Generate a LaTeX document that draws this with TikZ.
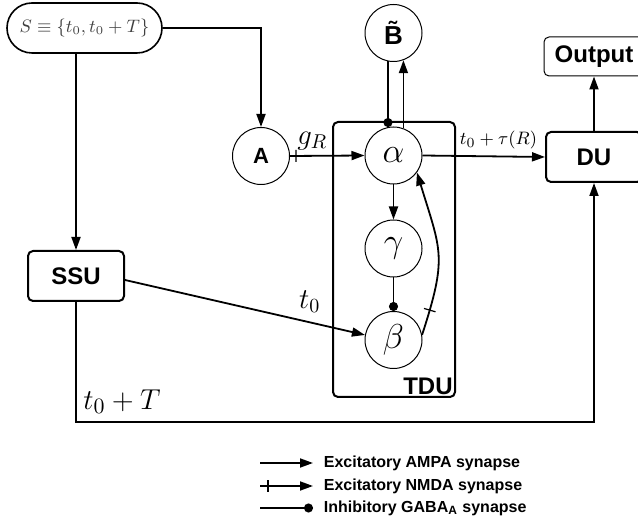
\documentclass[tikz,border=0pt]{standalone}
\usepackage{fontspec}
\setsansfont{Liberation Sans}
\usetikzlibrary{shapes.misc, arrows.meta, decorations.markings, calc}

\begin{document}
\begin{tikzpicture}[
    x=0.5pt, y=-0.5pt,
    unit_box/.style={
        draw=black, line width=1pt, rounded corners=2.5pt,
        minimum width=48pt, minimum height=25pt, inner sep=0pt,
        font=\sffamily\bfseries\fontsize{12}{14}\selectfont
    },
    cell/.style={
        circle, draw=black, line width=0.5pt,
        minimum size=28.5pt, inner sep=0pt,
        font=\fontsize{19}{22}\selectfont
    },
    ampa_line/.style={
        -{Triangle[length=6.5pt, width=4.5pt]}, line width=0.9pt
    },
    nmda_line/.style={
        ampa_line,
        postaction={decorate, decoration={markings,
            mark=at position #1 with {\draw[-, line width=0.6pt] (0,-3pt) -- (0,3pt);}}}
    },
    nmda_line/.default=3pt,
    gaba_line/.style={
        -{Circle[length=4.5pt]}, line width=0.9pt
    },
    legend_text/.style={
        anchor=west, inner sep=0pt, xshift=5pt,
        font=\sffamily\bfseries\fontsize{8}{10}\selectfont
    }
]
\useasboundingbox (0,0) rectangle (638,523);

%% ── Input set ──────────────────────────────
\node[rounded rectangle, draw=black, line width=0.8pt,
    minimum width=77.5pt, minimum height=25pt, inner sep=0pt,
    text=black!75, font=\fontsize{9}{11}\selectfont]
    (S) at (84.5,28) {$S \equiv \{t_0, t_0 + T\}$};

\node[cell, font=\sffamily\bfseries\fontsize{11}{13}\selectfont] (A) at (261,156) {A};

%% ── TDU ────────────────────────────────────
\node[unit_box, minimum width=61pt, minimum height=137.5pt] (TDU) at (394,259.5) {};
\node[anchor=south east, inner sep=1.5pt,
    font=\sffamily\bfseries\fontsize{12}{14}\selectfont]
    (TDU_label) at (TDU.south east) {TDU};

\node[cell] (alpha) at (393.5,155.5) {$\alpha$};
\node[cell] (gamma) at (393.5,248.5) {$\gamma$};
\node[cell] (beta)  at (393.5,340)   {$\beta$};
\node[cell, font=\sffamily\bfseries\fontsize{13}{15}\selectfont] (Bt) at (393.5,33) {\~{B}};

%% ── SSU, DU, Output ────────────────────────
\node[unit_box] (SSU) at (76,276) {SSU};
\node[unit_box, minimum width=48pt] (DU) at (594,157) {DU};
\node[unit_box, line width=0.5pt, minimum width=50pt, minimum height=19.5pt]
    (Out) at (594,56.5) {Output};

\coordinate (bus) at (594,422);

%% ── Connections ────────────────────────────
\draw[ampa_line] (S.east) -| (A.north);
\draw[ampa_line] (S.south -| SSU.north) -- (SSU.north);

\draw[nmda_line] (A.east) -- (alpha.west)
    node[pos=0.3, above=-1pt, font=\fontsize{14}{16}\selectfont] (gR) {$g_R$};

\draw[ampa_line] (alpha.east) -- (DU.west)
    node[pos=0.62, above, font=\fontsize{9.5}{11}\selectfont] (tau) {$t_0+\tau(R)$};

\draw[ampa_line] (alpha.south) -- (gamma.north);
\draw[gaba_line] (gamma.south) -- (beta.north);
\draw[nmda_line=13pt] (beta.10) to[out=72, in=-73, looseness=1.3] (alpha.-36);

\draw[gaba_line] (Bt.-101) -- (alpha.101);
\draw[ampa_line] (alpha.70.5) -- (Bt.-70.5);

\draw[ampa_line] ([yshift=-2pt]SSU.east) -- (beta.170)
    node[pos=0.77, above=1pt, font=\fontsize{14}{16}\selectfont] (t0) {$t_0$};

\draw[ampa_line] (SSU.south) |- (bus) -- (DU.south);
\node[font=\fontsize{15}{18}\selectfont] (t0T) at (122,402) {$t_0+T$};

\draw[ampa_line] (DU.north) -- (Out.south);

%% ── Legend ─────────────────────────────────
\coordinate (leg_ampa) at (260,463);
\coordinate (leg_nmda) at (260,486);
\coordinate (leg_gaba) at (260,508);

\draw[ampa_line] (leg_ampa) -- ++(53,0)
    node[legend_text] (txt_ampa) {Excitatory AMPA synapse};
\draw[nmda_line=4pt] (leg_nmda) -- ++(53,0)
    node[legend_text] (txt_nmda) {Excitatory NMDA synapse};
\draw[gaba_line] (leg_gaba) -- ++(53,0)
    node[legend_text] (txt_gaba) {Inhibitory GABA\textsubscript{A} synapse};

\end{tikzpicture}
\end{document}
